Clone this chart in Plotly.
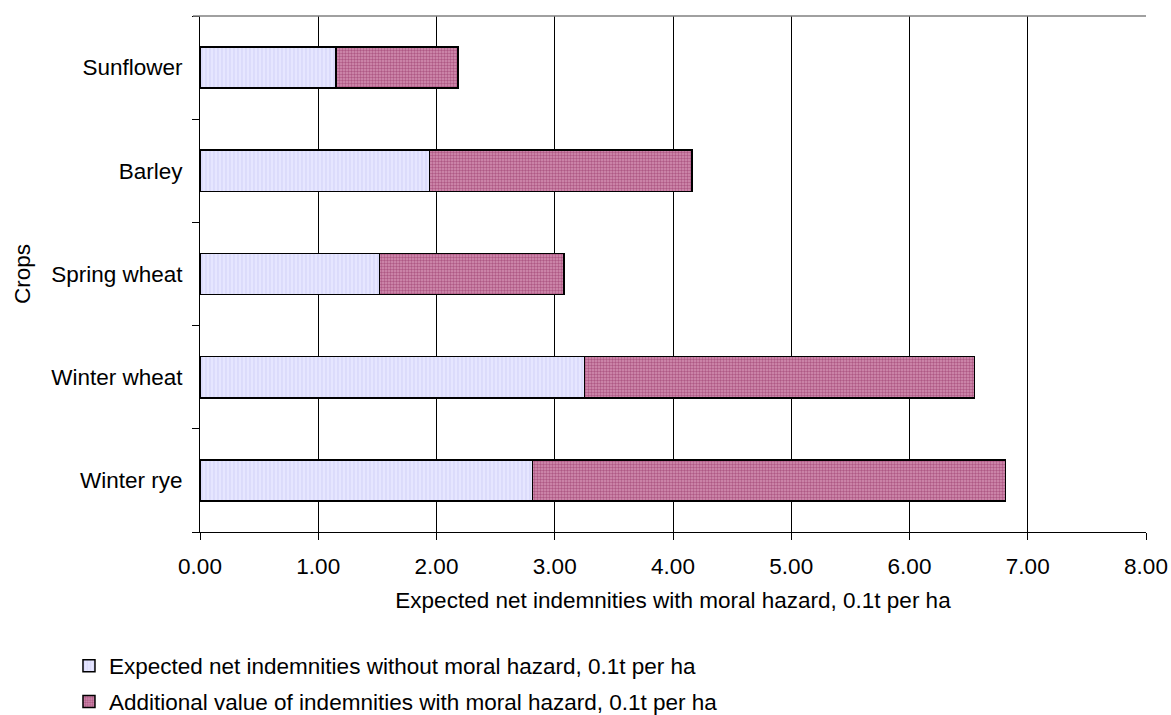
import plotly.graph_objects as go

crops = ["Winter rye", "Winter wheat", "Spring wheat", "Barley", "Sunflower"]
without_mh = [2.81, 3.25, 1.52, 1.94, 1.15]
additional_mh = [4.00, 3.30, 1.56, 2.22, 1.03]
x_ticks = [0, 1, 2, 3, 4, 5, 6, 7, 8]

name1 = "Expected net indemnities without moral hazard, 0.1t per ha"
name2 = "Additional value of indemnities with moral hazard, 0.1t per ha"
xtitle = "Expected net indemnities with moral hazard, 0.1t per ha"
ytitle = "Crops"

FONT = "Arial, 'Liberation Sans', sans-serif"
FS = 22.5

fig = go.Figure()
fig.add_trace(go.Bar(
    y=crops, x=without_mh, orientation="h", name=name1,
    marker=dict(color="#E6E6FF", line=dict(color="#000000", width=1.5),
                pattern=dict(shape="|", fgcolor="#C8C8F4", bgcolor="#E6E6FF",
                             size=4, solidity=0.35)),
    legend="legend",
))
fig.add_trace(go.Bar(
    y=crops, x=additional_mh, orientation="h", name=name2,
    marker=dict(color="#B8668E", line=dict(color="#000000", width=1.5),
                pattern=dict(shape=".", fgcolor="#882255", bgcolor="#D490B2",
                             size=3, solidity=0.5)),
    legend="legend2",
))

fig.update_layout(
    barmode="stack",
    bargap=0.6,
    width=1171, height=715,
    margin=dict(l=200, r=25, t=16, b=183, autoexpand=False),
    paper_bgcolor="white", plot_bgcolor="white",
    font=dict(family=FONT, size=FS, color="#000000"),
    showlegend=True,
    legend=dict(x=-0.1385, xanchor="left", y=-0.2597, yanchor="middle",
                bgcolor="rgba(0,0,0,0)", font=dict(size=FS)),
    legend2=dict(x=-0.1385, xanchor="left", y=-0.329, yanchor="middle",
                 bgcolor="rgba(0,0,0,0)", font=dict(size=FS)),
    xaxis=dict(
        range=[0, 8], tickvals=x_ticks, tickformat=".2f",
        showgrid=True, gridcolor="#000000", gridwidth=1,
        zeroline=False, showline=True, linecolor="#000000", linewidth=1,
        ticks="outside", ticklen=7, tickcolor="#000000",
        ticklabelstandoff=7, automargin=False,
        title=dict(text=xtitle, standoff=14, font=dict(size=FS)),
    ),
    yaxis=dict(
        tickson="boundaries", ticks="outside", ticklen=7, tickcolor="#000000",
        showgrid=False, zeroline=False, showline=True, linecolor="#000000",
        linewidth=1, automargin=False,
        title=dict(text=ytitle, standoff=14, font=dict(size=FS)),
        ticklabelstandoff=12,
    ),
    shapes=[dict(type="line", xref="paper", yref="paper",
                 x0=-7/946, x1=1, y0=1, y1=1,
                 line=dict(color="#808080", width=1.5))],
)

fig.write_html(
    "out.html",
    config={"displayModeBar": False},
    post_script="document.body.style.margin='0px';document.body.style.overflow='hidden';",
)
